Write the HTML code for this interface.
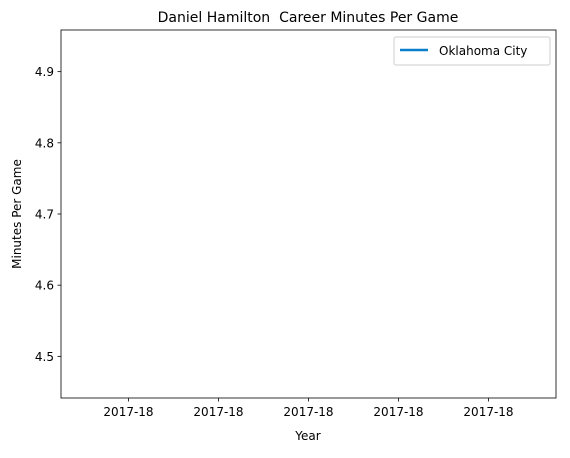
<!DOCTYPE html>
<html><head><meta charset="utf-8"><style>
body{margin:0;background:#fff;}
svg text{font-family:"DejaVu Sans","Liberation Sans",sans-serif;fill:#000;}
</style></head><body>
<svg id="chart" width="570" height="453" xmlns="http://www.w3.org/2000/svg">
<text x="308" y="22" font-size="14" text-anchor="middle" style="white-space:pre" xml:space="preserve">Daniel Hamilton  Career Minutes Per Game</text>
<g id="plot"></g>
<text x="308" y="440" font-size="12" text-anchor="middle">Year</text>
<text x="0" y="0" font-size="12" text-anchor="middle" transform="translate(21,214) rotate(-90)">Minutes Per Game</text>
<g>
<rect x="394" y="37" width="156" height="28" rx="2" fill="#fff" stroke="#ccc"/>
<line x1="400" y1="50" x2="428" y2="50" stroke="#0a7fc9" stroke-width="2.5"/>
<text x="439" y="55" font-size="12">Oklahoma City</text>
</g>
</svg>
<script>
const years = ["2017-18"];
const minutes = [4.7];
const yTicks = [4.5, 4.6, 4.7, 4.8, 4.9];
const xTickOffsets = [-0.04, -0.02, 0, 0.02, 0.04];
const xTickLabels = ["2017-18","2017-18","2017-18","2017-18","2017-18"];

const L=61,R=556,T=30,B=398;
const yMin=4.4415,yMax=4.9585,xMin=-0.055,xMax=0.055;
const ys=v=>B-(v-yMin)/(yMax-yMin)*(B-T);
const xs=v=>L+(v-xMin)/(xMax-xMin)*(R-L);
const NS="http://www.w3.org/2000/svg";
const g=document.getElementById('plot');
function mk(t,a){const e=document.createElementNS(NS,t);for(const k in a)e.setAttribute(k,a[k]);g.appendChild(e);return e;}
yTicks.forEach(v=>{
  const y=ys(v);
  const tk=mk('line',{x1:L-3.5,x2:L,y1:y,y2:y,stroke:'#000','stroke-width':0.8});
  
  
  const t=mk('text',{x:L-7,y:y+4.5,'font-size':12,'text-anchor':'end'});
  t.textContent=v.toFixed(1);
  
  
});
xTickOffsets.forEach((v,i)=>{
  const x=xs(v);
  const tk=mk('line',{x1:x,x2:x,y1:B,y2:B+3.5,stroke:'#000','stroke-width':0.8});
  
  
  const t=mk('text',{x:x,y:B+18,'font-size':12,'text-anchor':'middle'});
  t.textContent=xTickLabels[i];
  
  
});
const pts=minutes.map((v,i)=>xs(i)+','+ys(v)).join(' ');
const pl=mk('polyline',{points:pts,fill:'none',stroke:'#0a7fc9','stroke-width':2});


const fr=mk('rect',{x:L,y:T,width:R-L,height:B-T,fill:'none',stroke:'#000','stroke-width':0.8});


</script>
</body></html>
